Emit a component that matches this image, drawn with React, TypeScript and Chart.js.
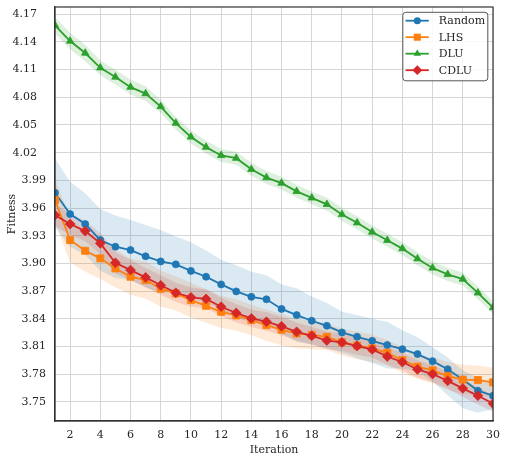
import React, { useEffect, useRef } from 'react';
import { Chart, registerables } from 'chart.js';

Chart.register(...registerables);

const iterations = [1, 2, 3, 4, 5, 6, 7, 8, 9, 10, 11, 12, 13, 14, 15, 16, 17, 18, 19, 20, 21, 22, 23, 24, 25, 26, 27, 28, 29, 30];
const xTicks = [2, 4, 6, 8, 10, 12, 14, 16, 18, 20, 22, 24, 26, 28, 30];
const yTicks = [3.75, 3.78, 3.81, 3.84, 3.87, 3.90, 3.93, 3.96, 3.99, 4.02, 4.05, 4.08, 4.11, 4.14, 4.17];

const randomMean = [3.9765, 3.9534, 3.9426, 3.9253, 3.918, 3.9144, 3.9076, 3.9021, 3.8989, 3.8918, 3.8855, 3.8772, 3.8696, 3.8637, 3.861, 3.8506, 3.8439, 3.8378, 3.8323, 3.8251, 3.8204, 3.816, 3.8114, 3.807, 3.8016, 3.794, 3.7852, 3.774, 3.762, 3.7565];
const randomUpper = [4.0138, 3.9885, 3.976, 3.959, 3.952, 3.947, 3.9415, 3.936, 3.929, 3.923, 3.914, 3.904, 3.898, 3.891, 3.887, 3.877, 3.873, 3.864, 3.857, 3.8475, 3.844, 3.84, 3.8367, 3.8276, 3.82, 3.809, 3.798, 3.784, 3.776, 3.77];
const randomLower = [3.939, 3.918, 3.909, 3.892, 3.884, 3.882, 3.874, 3.868, 3.869, 3.861, 3.857, 3.85, 3.841, 3.836, 3.835, 3.824, 3.815, 3.812, 3.808, 3.803, 3.797, 3.792, 3.786, 3.786, 3.783, 3.772, 3.757, 3.743, 3.738, 3.742];

const lhsMean = [3.9686, 3.9253, 3.9136, 3.9054, 3.8945, 3.8855, 3.8819, 3.8725, 3.8674, 3.8602, 3.854, 3.8475, 3.8435, 3.8385, 3.833, 3.828, 3.824, 3.8225, 3.8204, 3.8145, 3.811, 3.8078, 3.803, 3.795, 3.788, 3.784, 3.7778, 3.774, 3.7735, 3.771];
const lhsUpper = [3.992, 3.949, 3.936, 3.927, 3.915, 3.905, 3.902, 3.892, 3.886, 3.879, 3.872, 3.865, 3.861, 3.855, 3.85, 3.845, 3.84, 3.838, 3.835, 3.829, 3.826, 3.823, 3.817, 3.809, 3.801, 3.798, 3.793, 3.79, 3.789, 3.787];
const lhsLower = [3.945, 3.901, 3.891, 3.883, 3.874, 3.866, 3.862, 3.853, 3.849, 3.841, 3.836, 3.83, 3.827, 3.822, 3.816, 3.811, 3.808, 3.807, 3.806, 3.8, 3.796, 3.793, 3.789, 3.781, 3.775, 3.77, 3.763, 3.758, 3.757, 3.755];

const dluMean = [4.158, 4.141, 4.128, 4.112, 4.102, 4.091, 4.084, 4.07, 4.052, 4.037, 4.026, 4.017, 4.014, 4.002, 3.993, 3.987, 3.978, 3.971, 3.964, 3.953, 3.944, 3.934, 3.925, 3.916, 3.905, 3.895, 3.888, 3.883, 3.868, 3.852];
const dluUpper = [4.167, 4.15, 4.137, 4.12, 4.11, 4.099, 4.092, 4.077, 4.059, 4.044, 4.033, 4.024, 4.021, 4.009, 4.0, 3.994, 3.985, 3.978, 3.971, 3.96, 3.951, 3.941, 3.932, 3.923, 3.912, 3.902, 3.895, 3.89, 3.875, 3.859];
const dluLower = [4.149, 4.132, 4.119, 4.104, 4.094, 4.083, 4.076, 4.063, 4.045, 4.03, 4.019, 4.01, 4.007, 3.995, 3.986, 3.98, 3.971, 3.964, 3.957, 3.946, 3.937, 3.927, 3.918, 3.909, 3.898, 3.888, 3.881, 3.876, 3.861, 3.845];

const cdluMean = [3.9523, 3.9426, 3.935, 3.9217, 3.9006, 3.8927, 3.8848, 3.8762, 3.8681, 3.8632, 3.8615, 3.853, 3.8462, 3.8403, 3.8367, 3.8318, 3.8258, 3.8215, 3.8163, 3.8143, 3.8104, 3.8067, 3.799, 3.793, 3.785, 3.78, 3.7726, 3.7645, 3.7565, 3.748];
const cdluUpper = [3.964, 3.954, 3.946, 3.933, 3.912, 3.904, 3.895, 3.887, 3.879, 3.874, 3.872, 3.863, 3.856, 3.85, 3.847, 3.842, 3.836, 3.831, 3.826, 3.824, 3.82, 3.816, 3.809, 3.803, 3.795, 3.79, 3.782, 3.774, 3.766, 3.757];
const cdluLower = [3.94, 3.931, 3.924, 3.91, 3.889, 3.882, 3.874, 3.866, 3.858, 3.853, 3.851, 3.843, 3.836, 3.831, 3.827, 3.822, 3.816, 3.812, 3.807, 3.805, 3.801, 3.798, 3.79, 3.784, 3.776, 3.771, 3.764, 3.755, 3.747, 3.739];

const seriesNames = ['Random', 'LHS', 'DLU', 'CDLU'];
const seriesColors = ['#1f77b4', '#ff7f0e', '#2ca02c', '#d62728'];
const seriesRgb = ['31,119,180', '255,127,14', '44,160,44', '214,39,40'];
const seriesStyles = ['circle', 'rect', 'triangle', 'rectRot'];
const seriesRadii = [3.5, 5, 4.3, 4.9];
const seriesMeans = [randomMean, lhsMean, dluMean, cdluMean];
const seriesUppers = [randomUpper, lhsUpper, dluUpper, cdluUpper];
const seriesLowers = [randomLower, lhsLower, dluLower, cdluLower];

const FONT = 'DejaVu Serif';
const TEXT = '#262626';

const toPts = (arr: number[]) => iterations.map((x, i) => ({ x, y: arr[i] }));

function drawMarker(ctx: CanvasRenderingContext2D, style: string, x: number, y: number, r: number) {
  ctx.beginPath();
  if (style === 'circle') {
    ctx.arc(x, y, r, 0, Math.PI * 2);
  } else if (style === 'rect') {
    const s = r * Math.SQRT1_2;
    ctx.rect(x - s, y - s, 2 * s, 2 * s);
  } else if (style === 'triangle') {
    for (let k = 0; k < 3; k++) {
      const a = (k * 2 * Math.PI) / 3;
      const px = x + Math.sin(a) * r;
      const py = y - Math.cos(a) * r;
      if (k === 0) ctx.moveTo(px, py); else ctx.lineTo(px, py);
    }
    ctx.closePath();
  } else {
    ctx.moveTo(x, y - r);
    ctx.lineTo(x + r, y);
    ctx.lineTo(x, y + r);
    ctx.lineTo(x - r, y);
    ctx.closePath();
  }
  ctx.fill();
}

const overlayPlugin = {
  id: 'overlay',
  afterDraw(chart: any) {
    const { ctx, chartArea: a } = chart;
    ctx.save();
    ctx.strokeStyle = '#333333';
    ctx.lineWidth = 1.2;
    ctx.strokeRect(a.left, a.top, a.right - a.left, a.bottom - a.top);

    // y tick labels
    const ys = chart.scales.y;
    ctx.font = `11px "${FONT}"`;
    ctx.fillStyle = TEXT;
    ctx.textAlign = 'right';
    ctx.textBaseline = 'middle';
    yTicks.forEach((v) => {
      const py = ys.getPixelForValue(v);
      const rightEdge = v > 4.0 ? a.left - 18 : a.left - 9;
      ctx.fillText(v.toFixed(2), rightEdge, py);
    });

    // legend
    const bw = 85;
    const bh = 68.5;
    const bx = a.right - 5.2 - bw;
    const by = a.top + 5.3;
    ctx.beginPath();
    ctx.roundRect(bx, by, bw, bh, 3);
    ctx.fillStyle = 'rgba(255,255,255,0.85)';
    ctx.fill();
    ctx.strokeStyle = '#555555';
    ctx.lineWidth = 1;
    ctx.stroke();
    ctx.font = `11px "${FONT}"`;
    ctx.textBaseline = 'middle';
    ctx.textAlign = 'left';
    seriesNames.forEach((name, i) => {
      const yy = by + 8.4 + i * 16.5;
      ctx.strokeStyle = seriesColors[i];
      ctx.lineWidth = 1.8;
      ctx.beginPath();
      ctx.moveTo(bx + 2.7, yy);
      ctx.lineTo(bx + 26, yy);
      ctx.stroke();
      ctx.fillStyle = seriesColors[i];
      drawMarker(ctx, seriesStyles[i], bx + 14.5, yy, seriesRadii[i]);
      ctx.fillStyle = TEXT;
      ctx.fillText(name, bx + 36, yy + 0.5);
    });
    ctx.restore();
  },
};

export default function App() {
  const ref = useRef<HTMLCanvasElement | null>(null);

  useEffect(() => {
    if (!ref.current) return;
    const datasets: any[] = [];
    seriesNames.forEach((name, i) => {
      datasets.push({
        label: name + ' upper',
        data: toPts(seriesUppers[i]),
        borderWidth: 0,
        pointRadius: 0,
        fill: false,
        order: 20 + i,
        clip: 0,
      });
      datasets.push({
        label: name + ' lower',
        data: toPts(seriesLowers[i]),
        borderWidth: 0,
        pointRadius: 0,
        fill: '-1',
        backgroundColor: `rgba(${seriesRgb[i]},0.16)`,
        order: 20 + i,
        clip: 0,
      });
    });
    seriesNames.forEach((name, i) => {
      datasets.push({
        label: name,
        data: toPts(seriesMeans[i]),
        borderColor: seriesColors[i],
        backgroundColor: seriesColors[i],
        borderWidth: 1.8,
        pointStyle: seriesStyles[i],
        pointRadius: seriesRadii[i],
        pointBorderWidth: 0.8,
        pointBorderColor: seriesColors[i],
        pointBackgroundColor: seriesColors[i],
        fill: false,
        tension: 0,
        order: 3 - i,
        clip: 0,
      });
    });

    const chart = new Chart(ref.current, {
      type: 'line',
      data: { datasets },
      plugins: [overlayPlugin],
      options: {
        animation: false,
        responsive: true,
        maintainAspectRatio: false,
        layout: { padding: { top: 7, right: 13.5, left: 0, bottom: 0 } },
        plugins: {
          legend: { display: false },
          tooltip: { enabled: false },
          filler: { drawTime: 'beforeDatasetsDraw' },
        },
        scales: {
          x: {
            type: 'linear',
            min: 1,
            max: 30,
            afterBuildTicks: (scale: any) => {
              scale.ticks = xTicks.map((v) => ({ value: v }));
            },
            afterFit: (scale: any) => {
              scale.height = 39;
            },
            ticks: {
              autoSkip: false,
              maxRotation: 0,
              padding: 8,
              color: TEXT,
              font: { family: FONT, size: 11 },
              callback: (v: any) => String(v),
            },
            grid: { color: '#d6d6d6', lineWidth: 1, drawTicks: false },
            border: { display: true, color: '#333333', width: 1.2 },
            title: {
              display: true,
              text: 'Iteration',
              color: TEXT,
              font: { family: FONT, size: 11 },
              padding: { top: 0, bottom: 3 },
            },
          },
          y: {
            type: 'linear',
            min: 3.7291,
            max: 4.1779,
            afterBuildTicks: (scale: any) => {
              scale.ticks = yTicks.map((v) => ({ value: v }));
            },
            afterFit: (scale: any) => {
              scale.width = 55;
            },
            ticks: {
              display: false,
              autoSkip: false,
              padding: 0,
            },
            grid: { color: '#d6d6d6', lineWidth: 1, drawTicks: false },
            border: { display: true, color: '#333333', width: 1.2 },
            title: {
              display: true,
              text: 'Fitness',
              color: TEXT,
              font: { family: FONT, size: 11 },
              padding: { top: 5.5, bottom: 0 },
            },
          },
        },
      },
    } as any);
    return () => chart.destroy();
  }, []);

  return (
    <div style={{ position: 'fixed', left: 0, top: 0, width: 508, height: 460, background: '#fff' }}>
      <canvas ref={ref} />
    </div>
  );
}
